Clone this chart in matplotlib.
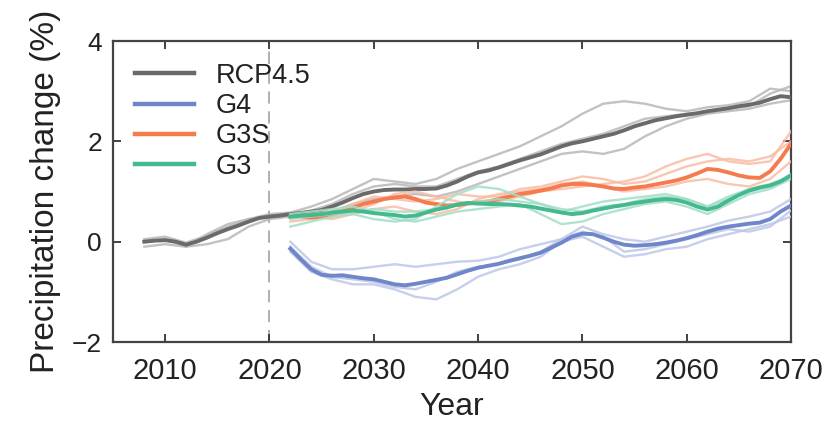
import matplotlib
matplotlib.use('Agg')
import matplotlib.pyplot as plt
import numpy as np

# ---------------- data ----------------
years_rcp = list(range(2008, 2071))
rcp_mean = [0.00, 0.02,                                                   # 2008-2009
            0.03, 0.00, -0.06, 0.00, 0.08, 0.17, 0.25, 0.32, 0.40, 0.47,  # 2010s
            0.50, 0.52, 0.55, 0.57, 0.60, 0.63, 0.70, 0.78, 0.87, 0.95,  # 2020s
            1.00, 1.03, 1.04, 1.04, 1.05, 1.05, 1.06, 1.12, 1.20, 1.30,  # 2030s
            1.38, 1.42, 1.48, 1.55, 1.62, 1.68, 1.74, 1.82, 1.90, 1.96,  # 2040s
            2.00, 2.05, 2.10, 2.15, 2.22, 2.30, 2.36, 2.42, 2.46, 2.50,  # 2050s
            2.53, 2.56, 2.60, 2.63, 2.66, 2.70, 2.73, 2.77, 2.84, 2.90,  # 2060s
            2.88]                                                        # 2070

years_rcp_m = list(range(2008, 2071, 2))
rcp_m1 = [0.05, 0.10, -0.02, 0.12, 0.30, 0.45, 0.55, 0.58, 0.70, 0.85, 1.05, 1.25, 1.20, 1.15, 1.25, 1.45,
          1.60, 1.75, 1.90, 2.10, 2.30, 2.55, 2.75, 2.80, 2.75, 2.65, 2.60, 2.68, 2.72, 2.80, 3.05, 3.00]
rcp_m2 = [-0.10, -0.05, -0.10, -0.05, 0.05, 0.30, 0.45, 0.50, 0.52, 0.60, 0.75, 0.85, 0.90, 0.95, 0.90, 1.00,
          1.15, 1.30, 1.45, 1.60, 1.75, 1.80, 1.75, 1.85, 2.10, 2.30, 2.45, 2.55, 2.60, 2.65, 2.75, 2.82]
rcp_m3 = [0.00, 0.05, -0.10, 0.15, 0.35, 0.45, 0.50, 0.55, 0.62, 0.75, 0.95, 1.10, 1.15, 1.10, 1.10, 1.25,
          1.40, 1.50, 1.65, 1.80, 1.95, 2.05, 2.15, 2.30, 2.45, 2.50, 2.55, 2.58, 2.65, 2.70, 2.95, 3.10]

years_geo = list(range(2022, 2071))
g4_mean = [-0.14, -0.35, -0.55, -0.66, -0.68, -0.67, -0.70, -0.73,          # 2022-2029
           -0.75, -0.80, -0.85, -0.87, -0.84, -0.80, -0.76, -0.72, -0.65, -0.58,  # 2030s
           -0.52, -0.48, -0.44, -0.38, -0.33, -0.28, -0.22, -0.12, -0.02, 0.10,   # 2040s
           0.16, 0.15, 0.08, 0.00, -0.06, -0.08, -0.07, -0.05, -0.02, 0.02,       # 2050s
           0.07, 0.13, 0.20, 0.26, 0.30, 0.33, 0.36, 0.38, 0.45, 0.60,            # 2060s
           0.72]
g3s_mean = [0.50, 0.50, 0.48, 0.50, 0.55, 0.60, 0.68, 0.75,
            0.80, 0.85, 0.88, 0.90, 0.85, 0.78, 0.75, 0.72, 0.73, 0.76,
            0.78, 0.80, 0.85, 0.90, 0.95, 0.98, 1.02, 1.06, 1.12, 1.15,
            1.15, 1.13, 1.10, 1.06, 1.05, 1.08, 1.10, 1.14, 1.18, 1.22,
            1.28, 1.36, 1.45, 1.43, 1.38, 1.32, 1.28, 1.27, 1.40, 1.65,
            1.95]
g3_mean = [0.50, 0.52, 0.53, 0.55, 0.58, 0.60, 0.62, 0.60,
           0.57, 0.55, 0.53, 0.50, 0.52, 0.58, 0.64, 0.68, 0.74, 0.77,
           0.76, 0.75, 0.75, 0.74, 0.72, 0.70, 0.66, 0.62, 0.58, 0.55,
           0.57, 0.62, 0.66, 0.70, 0.73, 0.77, 0.80, 0.83, 0.85, 0.83,
           0.78, 0.70, 0.64, 0.70, 0.82, 0.93, 1.02, 1.08, 1.12, 1.20,
           1.32]

years_geo_m = list(range(2022, 2071, 2))
g4_m1 = [0.00, -0.40, -0.55, -0.55, -0.50, -0.45, -0.50, -0.45, -0.40, -0.38, -0.30, -0.15, -0.05,
         0.05, 0.30, 0.15, 0.05, 0.00, 0.10, 0.20, 0.30, 0.42, 0.50, 0.60, 0.85]
g4_m2 = [-0.20, -0.60, -0.75, -0.85, -0.85, -0.95, -1.10, -1.15, -0.95, -0.70, -0.55, -0.45, -0.30,
         0.00, 0.10, -0.10, -0.30, -0.25, -0.15, -0.10, 0.05, 0.15, 0.25, 0.35, 0.50]
g4_m3 = [-0.10, -0.50, -0.70, -0.75, -0.80, -0.90, -0.95, -0.80, -0.60, -0.50, -0.45, -0.35, -0.20,
         0.05, 0.20, 0.10, -0.20, -0.15, -0.05, 0.05, 0.15, 0.25, 0.20, 0.30, 0.62]
g3s_m1 = [0.40, 0.45, 0.50, 0.60, 0.75, 0.95, 1.00, 0.90, 0.80, 0.75, 0.80, 0.90, 1.00,
          1.05, 1.10, 1.15, 1.20, 1.30, 1.50, 1.65, 1.75, 1.60, 1.55, 1.60, 2.20]
g3s_m2 = [0.55, 0.50, 0.45, 0.55, 0.65, 0.70, 0.60, 0.55, 0.65, 0.85, 0.95, 1.00, 1.05,
          1.15, 1.20, 1.10, 1.00, 1.05, 1.10, 1.20, 1.25, 1.15, 1.10, 1.25, 1.60]
g3s_m3 = [0.50, 0.55, 0.60, 0.75, 0.90, 0.85, 0.80, 0.85, 0.95, 0.90, 0.90, 1.05, 1.10,
          1.20, 1.30, 1.25, 1.15, 1.20, 1.35, 1.50, 1.60, 1.65, 1.60, 1.70, 2.00]
g3_m1 = [0.30, 0.40, 0.50, 0.55, 0.45, 0.40, 0.45, 0.70, 0.95, 1.10, 1.05, 0.90, 0.75,
         0.60, 0.70, 0.80, 0.85, 0.90, 0.95, 0.85, 0.70, 0.85, 1.00, 1.10, 1.35]
g3_m2 = [0.55, 0.60, 0.65, 0.70, 0.60, 0.45, 0.40, 0.50, 0.60, 0.65, 0.70, 0.75, 0.55,
         0.35, 0.40, 0.55, 0.65, 0.75, 0.80, 0.70, 0.55, 0.75, 0.95, 1.05, 1.25]
g3_m3 = [0.45, 0.50, 0.55, 0.60, 0.65, 0.60, 0.60, 0.65, 0.75, 0.80, 0.85, 0.80, 0.75,
         0.65, 0.60, 0.70, 0.75, 0.85, 0.90, 0.85, 0.70, 0.90, 1.05, 1.15, 1.30]

labels = ['RCP4.5', 'G4', 'G3S', 'G3']
xticks = [2010, 2020, 2030, 2040, 2050, 2060, 2070]
yticks = [-2, 0, 2, 4]
injection_year = 2020

# ---------------- style ----------------
colors = {'RCP4.5': '#6a6a6a', 'G4': '#6f86c8', 'G3S': '#f57a4e', 'G3': '#43b98d'}
member_colors = {'RCP4.5': '#b8b8b8', 'G4': '#bcc7e8', 'G3S': '#f9bca4', 'G3': '#a3dec7'}

reg = ['Liberation Sans', 'DejaVu Sans']
narrow = ['Liberation Sans Narrow', 'Liberation Sans', 'DejaVu Sans']
plt.rcParams['font.family'] = reg

fig = plt.figure(figsize=(8.28, 4.28), dpi=100)
ax = fig.add_axes([0.1365, 0.2009, 0.8188, 0.7033])

ax.axvline(injection_year, color='#9a9a9a', lw=1.1, ls=(0, (8, 5)), zorder=1)

groups = [
    ('RCP4.5', years_rcp, rcp_mean, years_rcp_m, [rcp_m1, rcp_m2, rcp_m3]),
    ('G4', years_geo, g4_mean, years_geo_m, [g4_m1, g4_m2, g4_m3]),
    ('G3S', years_geo, g3s_mean, years_geo_m, [g3s_m1, g3s_m2, g3s_m3]),
    ('G3', years_geo, g3_mean, years_geo_m, [g3_m1, g3_m2, g3_m3]),
]
z = 2
for name, yrs, mean, yrs_m, members in groups:
    for m in members:
        ax.plot(yrs_m, m, color=member_colors[name], lw=1.7, alpha=0.85, zorder=z)
    ax.plot(yrs, mean, color=colors[name], lw=2.8, zorder=z + 1, label=name)
    z += 2

ax.set_xlim(2005, 2070)
ax.set_ylim(-2, 4)
ax.set_xticks(xticks)
ax.set_yticks(yticks)
ax.set_xticklabels([str(t) for t in xticks], fontfamily=narrow, fontsize=21)
ax.set_yticklabels([('\u2212' + str(-t)) if t < 0 else str(t) for t in yticks], fontsize=19)
ax.tick_params(direction='in', top=True, right=True, length=6, width=1.3,
               colors='#333333', labelcolor='#222222')
ax.tick_params(axis='x', pad=11)
ax.tick_params(axis='y', pad=8)
for s in ax.spines.values():
    s.set_color('#444444')
    s.set_linewidth(1.6)

ax.set_xlabel('Year', fontfamily=narrow, fontsize=23, color='#222222', labelpad=5)
ax.set_ylabel('Precipitation change (%)', fontsize=24, color='#222222', labelpad=8)

leg = ax.legend(loc='upper left', frameon=False, fontsize=19.5, handlelength=2.2,
                handletextpad=0.8, labelspacing=0.16, borderaxespad=0.4,
                bbox_to_anchor=(0.0, 1.0))
for h in leg.get_lines():
    h.set_linewidth(3.2)
for t in leg.get_texts():
    t.set_color('#222222')

fig.savefig('out.png', dpi=100)
